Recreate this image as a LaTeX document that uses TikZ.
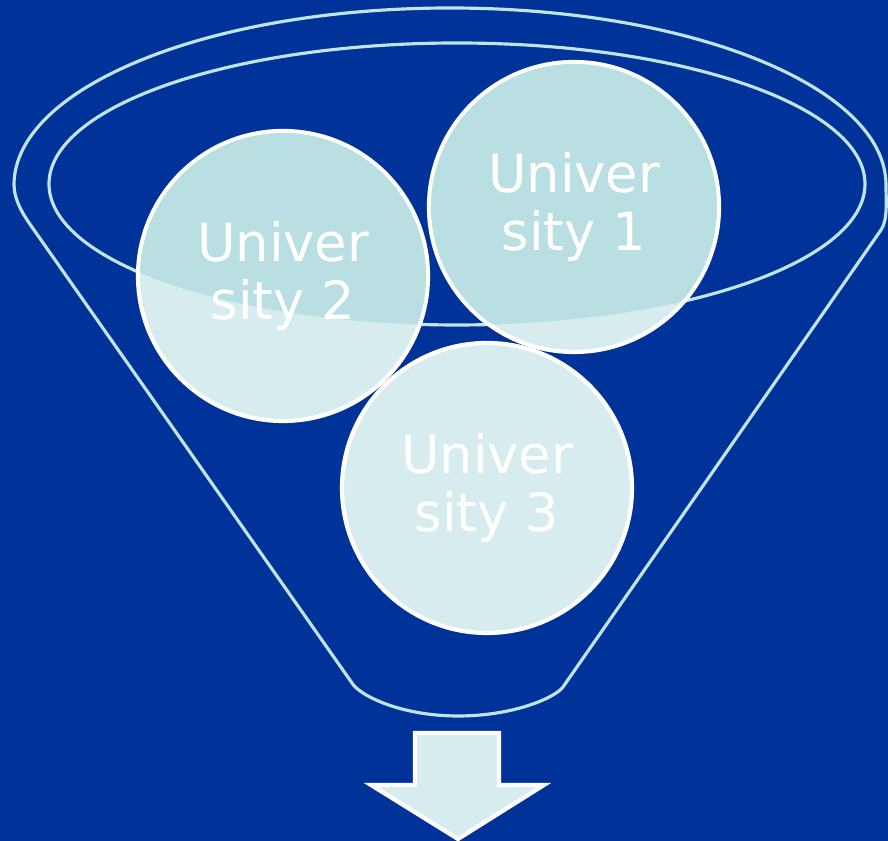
\documentclass[tikz,border=0pt]{standalone}
\usepackage{fontspec}
\setmainfont{DejaVu Sans}
\usepackage{tikz}
\usepackage{xcolor}
\definecolor{bgblue}{RGB}{0,51,153}
\definecolor{rimline}{RGB}{192,228,232}
\definecolor{unilight}{RGB}{215,236,238}
\definecolor{unidark}{RGB}{185,223,226}

\begin{document}
\begin{tikzpicture}[
  rim/.style={rimline, line width=0.9pt},
  uni/.style={circle, draw=white, line width=1.2pt, fill=unilight, minimum size=2.9cm, inner sep=0pt},
  unitext/.style={white, align=center, font=\fontsize{15}{16.5}\selectfont}
]
  \fill[bgblue] (0,0) rectangle (8.88,-8.41);
  \useasboundingbox (0,0) rectangle (8.88,-8.41);
  % Funnel body
  \draw[rim, line join=round] (0.14,-1.85) arc[start angle=180, end angle=0, x radius=4.36, y radius=1.77]
    .. controls (8.86,-2.0) and (8.88,-2.2) .. (8.81,-2.30) -- (5.63,-6.87)
    .. controls (5.56,-6.97) and (5.15,-7.16) .. (4.58,-7.16)
    .. controls (4.0,-7.16) and (3.59,-6.95) .. (3.52,-6.83) -- (0.305,-2.25)
    .. controls (0.235,-2.15) and (0.14,-2.0) .. (0.14,-1.85);
  % Rim
  \coordinate (rimc) at (4.57,-1.84);
  \draw[rim] (rimc) ellipse [x radius=4.08, y radius=1.41];
  % Universities
  \node[uni] (u1) at (5.74,-2.07) {};
  \node[uni] (u2) at (2.83,-2.76) {};
  \node[uni] (u3) at (4.87,-4.88) {};
  \begin{scope}
    \clip (rimc) ellipse [x radius=4.08, y radius=1.41];
    \foreach \u in {u1,u2,u3} \fill[unidark] (\u) circle (1.43);
  \end{scope}
  \node[unitext] (t1) at (u1) {Univer\\sity 1};
  \node[unitext] (t2) at (u2) {Univer\\sity 2};
  \node[unitext] (t3) at (u3) {Univer\\sity 3};
  % Output arrow
  \draw[white, line width=1.2pt, fill=unilight] (4.15,-7.33) -- (4.99,-7.33) -- (4.99,-7.85) -- (5.44,-7.85)
    -- (4.58,-8.39) -- (3.71,-7.85) -- (4.15,-7.85) -- cycle;
\end{tikzpicture}
\end{document}
